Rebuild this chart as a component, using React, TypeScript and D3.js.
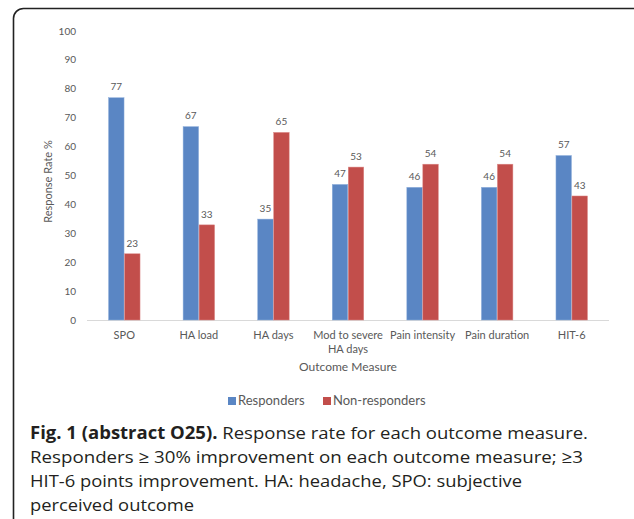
import React from 'react'
import * as d3 from 'd3'

const categories = [
  ['SPO'],
  ['HA load'],
  ['HA days'],
  ['Mod to severe', 'HA days'],
  ['Pain intensity'],
  ['Pain duration'],
  ['HIT-6'],
]
const responders = [77, 67, 35, 47, 46, 46, 57]
const nonResponders = [23, 33, 65, 53, 54, 54, 43]
const yTicks = [0, 10, 20, 30, 40, 50, 60, 70, 80, 90, 100]
const seriesNames = ['Responders', 'Non-responders']
const captionLines = [
  'Response rate for each outcome measure.',
  'Responders \u2265 30% improvement on each outcome measure; \u22653',
  'HIT-6 points improvement. HA: headache, SPO: subjective',
  'perceived outcome',
]
// measured line widths of the caption in the reference
const captionWidths = [558, 553, 492, 164]

const width = 634
const height = 519
const plot = { left: 87, right: 609, top: 31, bottom: 320 }
const colors = ['#5A86C4', '#C24E4B']
const edgeColors = ['#8fb0dc', '#dc8a88']
const textColor = '#595959'
const barWidth = 16
const chartFont = 'Lato, "Open Sans", sans-serif'
const captionFont = '"Open Sans", sans-serif'

export default function App() {
  const keys = categories.map((c) => c.join(' '))
  const x = d3.scaleBand().domain(keys).range([plot.left, plot.right])
  const y = d3.scaleLinear().domain([0, 100]).range([plot.bottom, plot.top])
  const series = [responders, nonResponders]

  return (
    <svg
      width={width}
      height={height}
      style={{ position: 'absolute', left: 0, top: 0, background: '#fff' }}
    >
      <rect
        x={13.5}
        y={8.5}
        width={640}
        height={530}
        rx={10}
        fill="#fff"
        stroke="#222"
        strokeWidth={1.6}
      />
      {/* y tick labels */}
      {yTicks.map((t) => (
        <text
          key={'t' + t}
          x={76}
          y={y(t)}
          dy="0.35em"
          textAnchor="end"
          fontFamily={chartFont}
          fontSize={10}
          fill={textColor}
        >
          {t}
        </text>
      ))}
      <text
        transform={`translate(48,${(plot.top + plot.bottom) / 2 + 6}) rotate(-90)`}
        textAnchor="middle"
        dy="0.35em"
        fontFamily={chartFont}
        fontSize={11}
        fill={textColor}
      >
        Response Rate %
      </text>
      <line
        x1={plot.left}
        x2={plot.right}
        y1={plot.bottom + 0.5}
        y2={plot.bottom + 0.5}
        stroke="#d9d9d9"
        strokeWidth={1}
      />
      {series.map((vals, si) =>
        vals.map((v, i) => {
          const cx = x(keys[i])! + x.bandwidth() / 2
          const bx = si === 0 ? cx - barWidth : cx
          return (
            <g key={`b${si}-${i}`}>
              <rect
                x={bx + 0.25}
                y={y(v) + 0.25}
                width={barWidth - 0.5}
                height={y(0) - y(v) - 0.25}
                fill={colors[si]}
                stroke={edgeColors[si]}
                strokeWidth={0.5}
              />
              <text
                x={bx + barWidth / 2}
                y={y(v) - 7}
                textAnchor="middle"
                fontFamily={chartFont}
                fontSize={10}
                fill={textColor}
              >
                {v}
              </text>
            </g>
          )
        })
      )}
      {categories.map((lines, i) => (
        <text
          key={'c' + i}
          x={x(keys[i])! + x.bandwidth() / 2}
          y={339}
          textAnchor="middle"
          fontFamily={chartFont}
          fontSize={11}
          fill={textColor}
        >
          {lines.map((l, j) => (
            <tspan key={j} x={x(keys[i])! + x.bandwidth() / 2} dy={j === 0 ? 0 : 14}>
              {l}
            </tspan>
          ))}
        </text>
      ))}
      <text
        x={(plot.left + plot.right) / 2}
        y={371}
        textAnchor="middle"
        fontFamily={chartFont}
        fontSize={12}
        fill={textColor}
      >
        Outcome Measure
      </text>
      {/* legend */}
      <rect x={228} y={397} width={8} height={8} fill={colors[0]} />
      <text x={238} y={405} fontFamily={chartFont} fontSize={13} fill={textColor}>
        {seriesNames[0]}
      </text>
      <rect x={323} y={397} width={8} height={8} fill={colors[1]} />
      <text x={333} y={405} fontFamily={chartFont} fontSize={13} fill={textColor}>
        {seriesNames[1]}
      </text>
      {/* caption */}
      <text
        x={30}
        y={439}
        fontFamily={captionFont}
        fontSize={17}
        fill="#231f20"
        textLength={captionWidths[0]}
        lengthAdjust="spacingAndGlyphs"
      >
        <tspan fontWeight="bold">Fig. 1 (abstract O25).</tspan> {captionLines[0]}
      </text>
      {captionLines.slice(1).map((l, i) => (
        <text
          key={'cap' + i}
          x={30}
          y={463 + i * 24}
          fontFamily={captionFont}
          fontSize={17}
          fill="#231f20"
          textLength={captionWidths[i + 1]}
          lengthAdjust="spacingAndGlyphs"
        >
          {l}
        </text>
      ))}
    </svg>
  )
}
